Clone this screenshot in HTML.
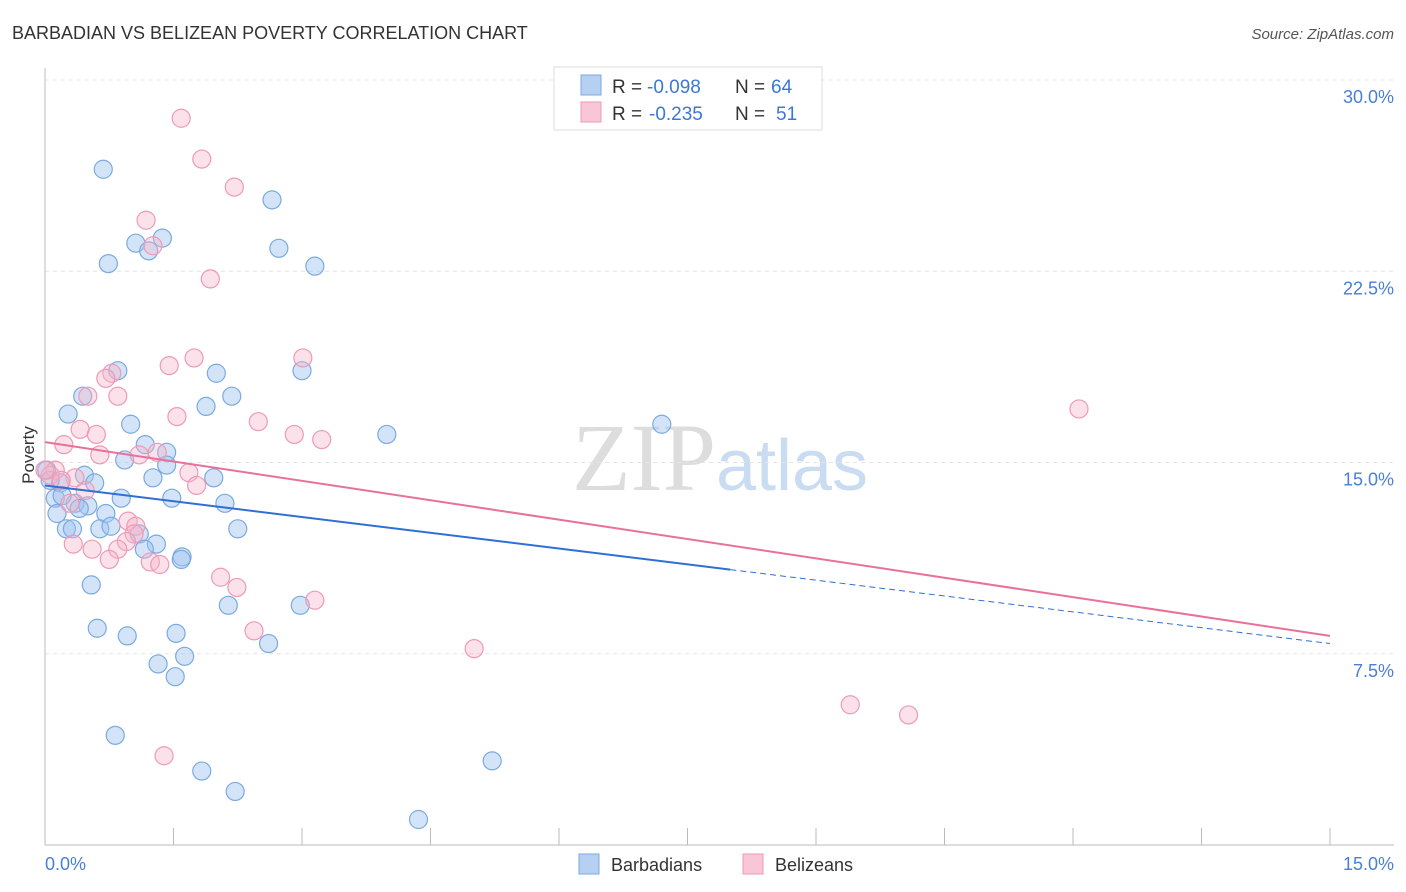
<!DOCTYPE html>
<html><head><meta charset="utf-8"><style>
body{margin:0;background:#fff;font-family:"Liberation Sans",sans-serif;}
svg{display:block}
</style></head><body>
<svg id="chart" width="1406" height="892" xmlns="http://www.w3.org/2000/svg">
<text x="12" y="39" font-size="18" fill="#333">BARBADIAN VS BELIZEAN POVERTY CORRELATION CHART</text>
<text x="1394" y="39" font-size="15" fill="#555" font-style="italic" text-anchor="end">Source: ZipAtlas.com</text>
<text x="720" y="490" font-size="96" fill="#ddd" text-anchor="middle" font-family="Liberation Serif,serif">ZIP<tspan fill="#c9dcf2" font-family="Liberation Sans,sans-serif" font-size="72">atlas</tspan></text>
<g id="grid"></g>
<g id="axes"></g>
<g id="points"></g>
<g id="trends"></g>
<text transform="translate(34,455) rotate(-90)" font-size="17" fill="#333" text-anchor="middle">Poverty</text>
<text x="45" y="870" font-size="18" fill="#4a7fd4">0.0%</text>
<text x="1394" y="870" font-size="18" fill="#4a7fd4" text-anchor="end">15.0%</text>
<g>
<rect x="554" y="67" width="268" height="63" fill="#fff" stroke="#ddd"/>
<rect x="581" y="75" width="20" height="20" fill="#b5d0f2" stroke="#7aaae0"/>
<rect x="581" y="102" width="20" height="20" fill="#f8c6d5" stroke="#ee9ab6"/>
<text x="612" y="93" font-size="19" fill="#333">R =</text>
<text x="647" y="93" font-size="19" fill="#3a78d4">-0.098</text>
<text x="735" y="93" font-size="19" fill="#333">N =</text>
<text x="771" y="93" font-size="19" fill="#3a78d4">64</text>
<text x="612" y="120" font-size="19" fill="#333">R =</text>
<text x="649" y="120" font-size="19" fill="#3a78d4">-0.235</text>
<text x="735" y="120" font-size="19" fill="#333">N =</text>
<text x="776" y="120" font-size="19" fill="#3a78d4">51</text>
</g>
<g>
<rect x="579" y="854" width="20" height="20" fill="#b5d0f2" stroke="#7aaae0"/>
<text x="611" y="871" font-size="18" fill="#333">Barbadians</text>
<rect x="743" y="854" width="20" height="20" fill="#f8c6d5" stroke="#ee9ab6"/>
<text x="775" y="871" font-size="18" fill="#333">Belizeans</text>
</g>
</svg>
<script>
const yTicks=[7.5,15,22.5,30];
const xTicks=[0,1.5,3,4.5,6,7.5,9,10.5,12,13.5,15];
const barbX=[0.68,2.65,1.06,1.37,1.21,2.73,0.74,3.15,0.85,3.0,2.0,0.44,2.18,0.27,1.88,1.0,3.99,7.20,1.17,1.42,0.93,1.42,0.46,1.26,0.58,1.97,0.18,0.12,0.35,0.89,1.48,2.1,0.5,0.4,0.14,0.71,0.25,0.64,0.77,0.32,2.25,1.1,1.3,1.16,1.6,1.59,0.54,2.14,2.98,0.61,0.96,1.53,2.61,1.63,1.32,1.52,0.82,1.83,2.22,5.22,4.36,0.02,0.06,0.2];
const barbY=[26.5,25.3,23.6,23.8,23.3,23.4,22.8,22.7,18.6,18.6,18.5,17.6,17.6,16.9,17.2,16.5,16.1,16.5,15.7,15.4,15.1,14.9,14.5,14.4,14.2,14.4,14.2,13.6,13.4,13.6,13.6,13.4,13.3,13.2,13.0,13.0,12.4,12.4,12.5,12.4,12.4,12.2,11.8,11.6,11.3,11.2,10.2,9.4,9.4,8.5,8.2,8.3,7.9,7.4,7.1,6.6,4.3,2.9,2.1,3.3,1.0,14.7,14.3,13.7];
const belX=[1.59,1.83,2.21,1.18,1.26,1.93,1.45,1.74,3.01,0.78,0.71,0.5,0.85,1.54,2.49,0.41,0.6,2.91,3.23,0.22,0.64,1.1,1.31,1.68,1.77,0.47,0.35,0.12,0.06,0.19,0.29,0.97,1.06,1.04,0.95,0.55,0.85,0.33,0.75,1.23,1.34,2.05,2.24,3.15,2.44,5.01,9.4,10.08,12.07,1.39,0.0];
const belY=[28.5,26.9,25.8,24.5,23.5,22.2,18.8,19.1,19.1,18.5,18.3,17.6,17.6,16.8,16.6,16.3,16.1,16.1,15.9,15.7,15.3,15.3,15.4,14.6,14.1,13.9,14.4,14.7,14.5,14.3,13.4,12.7,12.5,12.2,11.9,11.6,11.6,11.8,11.2,11.1,11.0,10.5,10.1,9.6,8.4,7.7,5.5,5.1,17.1,3.5,14.7];
const blueTrend=[[0,14.1],[8.0,10.8],[15,7.9]];
const pinkTrend=[[0,15.8],[15,8.2]];
const X=v=>45+v*1285/15, Y=v=>845-v*25.5;
const NS="http://www.w3.org/2000/svg";
function mk(tag,attrs,parent){const e=document.createElementNS(NS,tag);for(const k in attrs)e.setAttribute(k,attrs[k]);parent.appendChild(e);return e;}
const grid=document.getElementById('grid'),axes=document.getElementById('axes');
yTicks.forEach(t=>{
 const l=mk('line',{x1:45,x2:1394,y1:Y(t),y2:Y(t),stroke:'#e4e4e4','stroke-dasharray':'4,4'},grid);
 
 
 const tx=mk('text',{x:1394,y:Y(t)+23,'font-size':18,fill:'#4a7fd4','text-anchor':'end'},grid);
 tx.textContent=t.toFixed(1)+'%';
 
 
});
const ax=mk('line',{x1:45,x2:45,y1:68,y2:845,stroke:'#bbb'},axes);


const bx=mk('line',{x1:45,x2:1394,y1:845,y2:845,stroke:'#bbb'},axes);


xTicks.forEach(t=>{
 const l=mk('line',{x1:X(t),x2:X(t),y1:828,y2:845,stroke:'#bbb'},axes);
 
 
});
const pts=document.getElementById('points');
barbX.forEach((v,i)=>{
 const c=mk('circle',{cx:X(v),cy:Y(barbY[i]),r:9,fill:'rgba(160,195,240,0.45)',stroke:'#7aaae0','stroke-width':1.2},pts);
 
 
});
belX.forEach((v,i)=>{
 const c=mk('circle',{cx:X(v),cy:Y(belY[i]),r:9,fill:'rgba(245,180,200,0.4)',stroke:'#ee9ab6','stroke-width':1.2},pts);
 
 
});
const tr=document.getElementById('trends');
const b1=mk('line',{x1:X(blueTrend[0][0]),y1:Y(blueTrend[0][1]),x2:X(blueTrend[1][0]),y2:Y(blueTrend[1][1]),stroke:'#2f6fd6','stroke-width':2},tr);


const b2=mk('line',{x1:X(blueTrend[1][0]),y1:Y(blueTrend[1][1]),x2:X(blueTrend[2][0]),y2:Y(blueTrend[2][1]),stroke:'#2f6fd6','stroke-width':1,'stroke-dasharray':'6,4'},tr);


const p1=mk('line',{x1:X(pinkTrend[0][0]),y1:Y(pinkTrend[0][1]),x2:X(pinkTrend[1][0]),y2:Y(pinkTrend[1][1]),stroke:'#e8719a','stroke-width':2},tr);


</script>
</body></html>
